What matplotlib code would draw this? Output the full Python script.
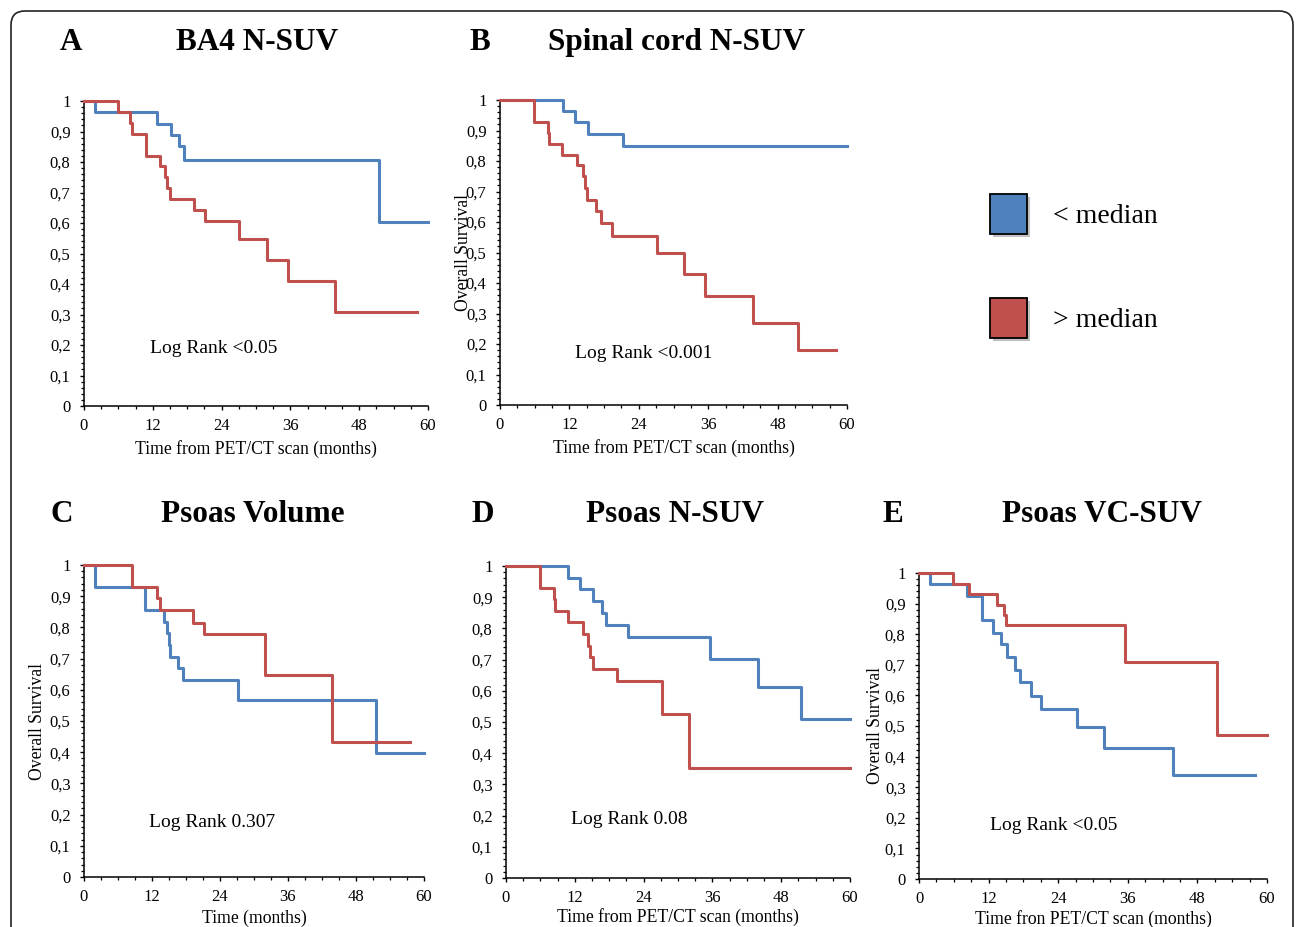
import matplotlib
matplotlib.use("Agg")
import matplotlib.pyplot as plt
from matplotlib.patches import Patch, FancyBboxPatch
from matplotlib.ticker import MultipleLocator, FixedLocator, FixedFormatter
from matplotlib.transforms import IdentityTransform
import matplotlib.patheffects as pe

plt.rcParams['font.family'] = ['Liberation Serif', 'DejaVu Serif']

BLUE = '#4F81BD'
RED = '#C0504D'

# ---------------- data (time in months, survival fraction) ----------------
a_low_t = [0, 2.0, 12.8, 15.1, 16.5, 17.4, 51.5, 60]
a_low_s = [1, 0.964, 0.926, 0.889, 0.852, 0.806, 0.603, 0.603]
a_high_t = [0, 5.9, 8.1, 8.3, 10.8, 13.3, 14.2, 14.5, 15.0, 19.2, 21.1, 27.1, 31.9, 35.5, 43.8, 58.0]
a_high_s = [1, 0.964, 0.929, 0.893, 0.821, 0.786, 0.75, 0.714, 0.679, 0.643, 0.607, 0.546, 0.478, 0.41, 0.307, 0.307]

b_low_t = [0, 10.85, 12.9, 15.2, 21.2, 60]
b_low_s = [1, 0.964, 0.928, 0.89, 0.849, 0.849]
b_high_t = [0, 5.9, 8.25, 8.4, 10.8, 13.4, 14.3, 14.7, 15.1, 16.6, 17.5, 19.3, 27.2, 31.9, 35.5, 43.8, 51.6, 58.1]
b_high_s = [1, 0.929, 0.893, 0.857, 0.821, 0.786, 0.75, 0.71, 0.672, 0.636, 0.598, 0.555, 0.5, 0.429, 0.357, 0.268, 0.179, 0.179]

c_low_t = [0, 1.9, 10.75, 14.2, 14.7, 15.0, 15.2, 16.5, 17.5, 27.2, 51.5, 60]
c_low_s = [1, 0.931, 0.856, 0.818, 0.783, 0.745, 0.706, 0.67, 0.631, 0.566, 0.397, 0.397]
c_high_t = [0, 8.46, 12.9, 13.4, 19.3, 21.1, 31.9, 43.8, 57.6]
c_high_s = [1, 0.929, 0.893, 0.857, 0.815, 0.778, 0.648, 0.432, 0.432]

d_low_t = [0, 10.8, 12.95, 15.2, 16.7, 17.5, 21.2, 35.6, 43.9, 51.5, 60]
d_low_s = [1, 0.962, 0.925, 0.887, 0.85, 0.811, 0.771, 0.701, 0.613, 0.51, 0.51]
d_high_t = [0, 5.9, 8.3, 8.5, 10.8, 13.5, 14.3, 14.6, 15.2, 19.3, 27.2, 32.0, 60]
d_high_s = [1, 0.928, 0.893, 0.856, 0.821, 0.781, 0.745, 0.708, 0.671, 0.63, 0.526, 0.351, 0.351]

e_low_t = [0, 1.9, 8.3, 10.8, 12.8, 14.2, 15.1, 16.5, 17.45, 19.3, 21.1, 27.2, 31.9, 43.8, 58.0]
e_low_s = [1, 0.963, 0.926, 0.845, 0.805, 0.767, 0.725, 0.684, 0.643, 0.599, 0.554, 0.497, 0.427, 0.34, 0.34]
e_high_t = [0, 5.86, 8.55, 13.4, 14.6, 15.0, 35.5, 51.4, 60]
e_high_s = [1, 0.964, 0.93, 0.896, 0.862, 0.83, 0.709, 0.472, 0.472]

panel_letters = ['A', 'B', 'C', 'D', 'E']
panel_titles = ['BA4 N-SUV', 'Spinal cord N-SUV', 'Psoas Volume', 'Psoas N-SUV', 'Psoas VC-SUV']
log_rank_texts = ['Log Rank <0.05', 'Log Rank <0.001', 'Log Rank 0.307', 'Log Rank 0.08', 'Log Rank <0.05']
x_labels = ['Time from PET/CT scan (months)', 'Time from PET/CT scan (months)', 'Time (months)',
            'Time from PET/CT scan (months)', 'Time fron PET/CT scan (months)']
y_labels = ['', 'Overall Survival', 'Overall Survival', '', 'Overall Survival']
legend_labels = ['< median', '> median']

x_ticks = [0, 12, 24, 36, 48, 60]
x_tick_labels = ['0', '12', '24', '36', '48', '60']
y_ticks = [0, 0.1, 0.2, 0.3, 0.4, 0.5, 0.6, 0.7, 0.8, 0.9, 1.0]
y_tick_labels = ['0', '0,1', '0,2', '0,3', '0,4', '0,5', '0,6', '0,7', '0,8', '0,9', '1']

series = [
    (a_low_t, a_low_s, a_high_t, a_high_s),
    (b_low_t, b_low_s, b_high_t, b_high_s),
    (c_low_t, c_low_s, c_high_t, c_high_s),
    (d_low_t, d_low_s, d_high_t, d_high_s),
    (e_low_t, e_low_s, e_high_t, e_high_s),
]

# ---------------- layout (pixel based) ----------------
W, H = 1296, 927
fig = plt.figure(figsize=(W / 100, H / 100), dpi=100)
fig.patch.set_facecolor('white')

# left, right, top, bottom in pixels
axes_px = [
    (84, 428, 101, 406),
    (500, 847, 100, 405),
    (84, 424, 565, 877),
    (506, 850, 566, 878),
    (919, 1267, 573, 879),
]
letter_px = [(71, 50), (480, 50), (62, 522), (483, 522), (893, 522)]
title_px = [(257, 50), (677, 50), (253, 522), (675, 522), (1102, 522)]
logrank_pos = [(0.192, 0.174), (0.216, 0.154), (0.191, 0.160), (0.189, 0.173), (0.204, 0.160)]
ylabel_x = [None, -0.081, -0.112, None, -0.100]
xlabel_pad = [4.5, 4.0, 3.0, 1.5, 2.5]

for i, (l, r, t, b) in enumerate(axes_px):
    ax = fig.add_axes([l / W, 1 - b / H, (r - l) / W, (b - t) / H])
    lt, ls, ht, hs = series[i]
    ax.step(lt, ls, where='post', color=BLUE, lw=2.2, clip_on=False, zorder=3)
    ax.step(ht, hs, where='post', color=RED, lw=2.2, clip_on=False, zorder=4)
    ax.set_xlim(0, 60)
    ax.set_ylim(0, 1)
    for s in ['top', 'right']:
        ax.spines[s].set_visible(False)
    for s in ['left', 'bottom']:
        ax.spines[s].set_linewidth(1.1)
        ax.spines[s].set_color('black')
    ax.xaxis.set_major_locator(FixedLocator(x_ticks))
    ax.xaxis.set_major_formatter(FixedFormatter(x_tick_labels))
    ax.xaxis.set_minor_locator(MultipleLocator(3))
    ax.yaxis.set_major_locator(FixedLocator(y_ticks))
    ax.yaxis.set_major_formatter(FixedFormatter(y_tick_labels))
    ax.yaxis.set_minor_locator(MultipleLocator(0.02))
    ax.tick_params(axis='both', which='major', direction='out', length=3.2, width=1.0,
                   labelsize=12, color='black')
    ax.tick_params(axis='both', which='minor', direction='out', length=2.4, width=0.9, color='black')
    ax.tick_params(axis='y', which='major', pad=6.5)
    ax.tick_params(axis='x', which='major', pad=5.5)
    ax.set_xlabel(x_labels[i], fontsize=12.7, labelpad=xlabel_pad[i])
    if y_labels[i]:
        ax.set_ylabel(y_labels[i], fontsize=12.7)
        ax.yaxis.set_label_coords(ylabel_x[i], 0.5)
    ax.text(logrank_pos[i][0], logrank_pos[i][1], log_rank_texts[i], transform=ax.transAxes,
            fontsize=14, ha='left', va='baseline')
    ax.set_facecolor('none')

    fig.text(letter_px[i][0] / W, 1 - letter_px[i][1] / H, panel_letters[i], fontsize=22.5,
             fontweight='bold', ha='center', va='baseline')
    fig.text(title_px[i][0] / W, 1 - title_px[i][1] / H, panel_titles[i], fontsize=22.5,
             fontweight='bold', ha='center', va='baseline')

# legend
shadow = [pe.SimplePatchShadow(offset=(2, -2), shadow_rgbFace='#999999', alpha=0.6), pe.Normal()]
handles = [Patch(facecolor=BLUE, edgecolor='black', lw=1.3, path_effects=shadow),
           Patch(facecolor=RED, edgecolor='black', lw=1.3, path_effects=shadow)]
fig.legend(handles, legend_labels, loc='upper left', bbox_to_anchor=(990 / W, 1 - 194 / H),
           frameon=False, fontsize=20, handlelength=1.33, handleheight=1.84,
           handletextpad=0.95, labelspacing=2.3, borderpad=0, borderaxespad=0)

# outer rounded frame
frame = FancyBboxPatch((11, -60), 1282, H - 11 + 60, boxstyle='round,pad=0,rounding_size=14',
                       transform=IdentityTransform(), facecolor='none', edgecolor='#222222', lw=1.2)
fig.add_artist(frame)

fig.savefig('out.png', dpi=100)
